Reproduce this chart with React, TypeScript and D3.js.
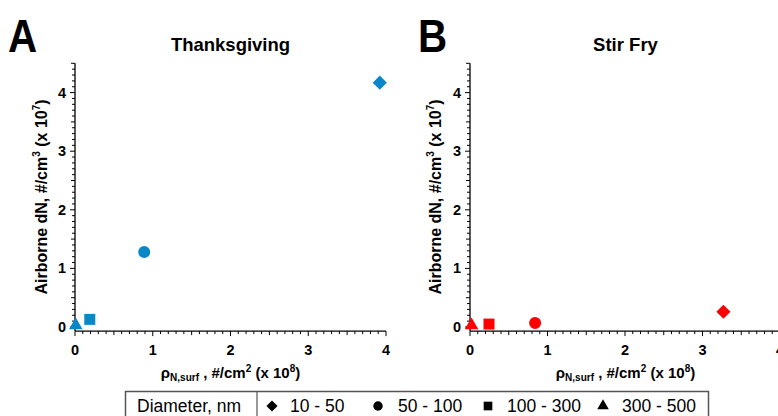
import React from "react";
import * as d3 from "d3";

const sizeBins = ["10 - 50", "50 - 100", "100 - 300", "300 - 500"];
const shapes = ["diamond", "circle", "square", "triangle"];

const thanksX = [3.92, 0.89, 0.19, 0.01];
const thanksY = [4.17, 1.28, 0.13, 0.03];
const stirX = [3.27, 0.84, 0.245, 0.02];
const stirY = [0.26, 0.07, 0.05, 0.03];

const xTicks = [0, 1, 2, 3, 4];
const yTicks = [0, 1, 2, 3, 4];

const panels = [
  { letter: "A", title: "Thanksgiving", xs: thanksX, ys: thanksY, color: "#0A87C9", x0: 75, x1: 386, ytitleX: 41, letterX: 8 },
  { letter: "B", title: "Stir Fry", xs: stirX, ys: stirY, color: "#FF0000", x0: 470, x1: 780, ytitleX: 435, letterX: 418 },
];

const FONT = "Arial, 'Liberation Sans', Helvetica, sans-serif";

function symbolPath(shape: string, size: number) {
  if (shape === "diamond") return d3.symbol(d3.symbolSquare, size)() as string;
  if (shape === "circle") return d3.symbol(d3.symbolCircle, size)() as string;
  if (shape === "square") return d3.symbol(d3.symbolSquare, size)() as string;
  return d3.symbol(d3.symbolTriangle, size)() as string;
}
const markerSize: Record<string, number> = { diamond: 100, circle: 113, square: 121, triangle: 80 };
const legendSize: Record<string, number> = { diamond: 62, circle: 70, square: 75, triangle: 58 };

function Panel({ p }: { p: typeof panels[number] }) {
  const x = d3.scaleLinear().domain([0, 4]).range([p.x0, p.x1]);
  const y = d3.scaleLinear().domain([0, 4.5]).range([327, 63.3]);
  const yBottom = y(-0.07);
  const minorX = d3.range(0, 40.5, 1).map((v) => v / 10);
  const minorY = d3.range(0, 45.5, 1).map((v) => v / 10);
  const cx = (p.x0 + 386 - 75 + p.x0) / 2;
  return (
    <g>
      <text x={p.letterX} y={52} fontFamily={FONT} fontWeight="bold" fontSize={47}
        transform={`translate(${p.letterX},0) scale(0.86,1) translate(${-p.letterX},0)`}>{p.letter}</text>
      <text x={cx} y={51} textAnchor="middle" fontFamily={FONT} fontWeight="bold" fontSize={18.5}>{p.title}</text>
      {/* y axis */}
      <line x1={x(0)} x2={x(0)} y1={yBottom} y2={y(4.5)} stroke="#000" strokeWidth={1.3} />
      {minorY.map((v) => {
        const major = Math.abs(v - Math.round(v)) < 1e-6;
        const half = Math.abs(v * 2 - Math.round(v * 2)) < 1e-6;
        const len = major ? 5 : half ? 4 : 3;
        return <line key={"ym" + v} x1={x(0) - len} x2={x(0)} y1={y(v)} y2={y(v)} stroke="#000" strokeWidth={1} />;
      })}
      {yTicks.map((t) => (
        <text key={"yt" + t} x={x(0) - 9} y={y(t) + 5} textAnchor="end" fontFamily={FONT} fontWeight="bold" fontSize={14.5}>{t}</text>
      ))}
      {/* x axis */}
      <line x1={x(0)} x2={x(4)} y1={yBottom} y2={yBottom} stroke="#000" strokeWidth={1.3} />
      {minorX.map((v) => {
        const major = Math.abs(v - Math.round(v)) < 1e-6;
        const half = Math.abs(v * 2 - Math.round(v * 2)) < 1e-6;
        const len = major ? 5 : half ? 4 : 3;
        return <line key={"xm" + v} x1={x(v)} x2={x(v)} y1={yBottom} y2={yBottom + len} stroke="#000" strokeWidth={1} />;
      })}
      {xTicks.map((t) => (
        <text key={"xt" + t} x={x(t)} y={355} textAnchor="middle" fontFamily={FONT} fontWeight="bold" fontSize={14.5}>{t}</text>
      ))}
      {/* axis titles */}
      <text x={cx} y={378} textAnchor="middle" fontFamily={FONT} fontWeight="bold" fontSize={15}>
        ρ<tspan fontSize={10} dy={3}>N,surf</tspan><tspan dy={-3}> , #/cm</tspan><tspan fontSize={10} dy={-6}>2</tspan><tspan dy={6}> (x 10</tspan><tspan fontSize={10} dy={-6}>8</tspan><tspan dy={6}>)</tspan>
      </text>
      <text transform={`translate(${p.ytitleX + 6},197) rotate(-90)`} textAnchor="middle" fontFamily={FONT} fontWeight="bold" fontSize={16}>
        Airborne dN, #/cm<tspan fontSize={10} dy={-7}>3</tspan><tspan dy={7}> (x 10</tspan><tspan fontSize={10} dy={-7}>7</tspan><tspan dy={7}>)</tspan>
      </text>
      {/* points */}
      {p.xs.map((xv, i) => (
        <path key={"pt" + i} d={symbolPath(shapes[i], markerSize[shapes[i]])}
          transform={`translate(${x(xv)},${y(p.ys[i])})${shapes[i] === "diamond" ? " rotate(45)" : ""}`}
          fill={p.color} />
      ))}
    </g>
  );
}

export default function App() {
  const legendX = [272, 378, 488, 603];
  const legendTextX = [290, 398, 507, 622];
  return (
    <svg width={778} height={416} style={{ position: "absolute", left: 0, top: 0, background: "#fff" }}>
      <rect x={0} y={0} width={778} height={416} fill="#fff" />
      {panels.map((p) => <Panel key={p.letter} p={p} />)}
      {/* legend */}
      <rect x={125.5} y={391.5} width={583} height={40} fill="none" stroke="#555" strokeWidth={1.5} />
      <line x1={257} x2={257} y1={391.5} y2={416} stroke="#555" strokeWidth={1.2} />
      <text x={137} y={412} fontFamily={FONT} fontSize={17.5}>Diameter, nm</text>
      {sizeBins.map((b, i) => (
        <g key={b}>
          <path d={symbolPath(shapes[i], legendSize[shapes[i]])}
            transform={`translate(${legendX[i]},${406})${shapes[i] === "diamond" ? " rotate(45)" : ""}`} fill="#000" />
          <text x={legendTextX[i]} y={412} fontFamily={FONT} fontSize={17.5}>{b}</text>
        </g>
      ))}
    </svg>
  );
}
